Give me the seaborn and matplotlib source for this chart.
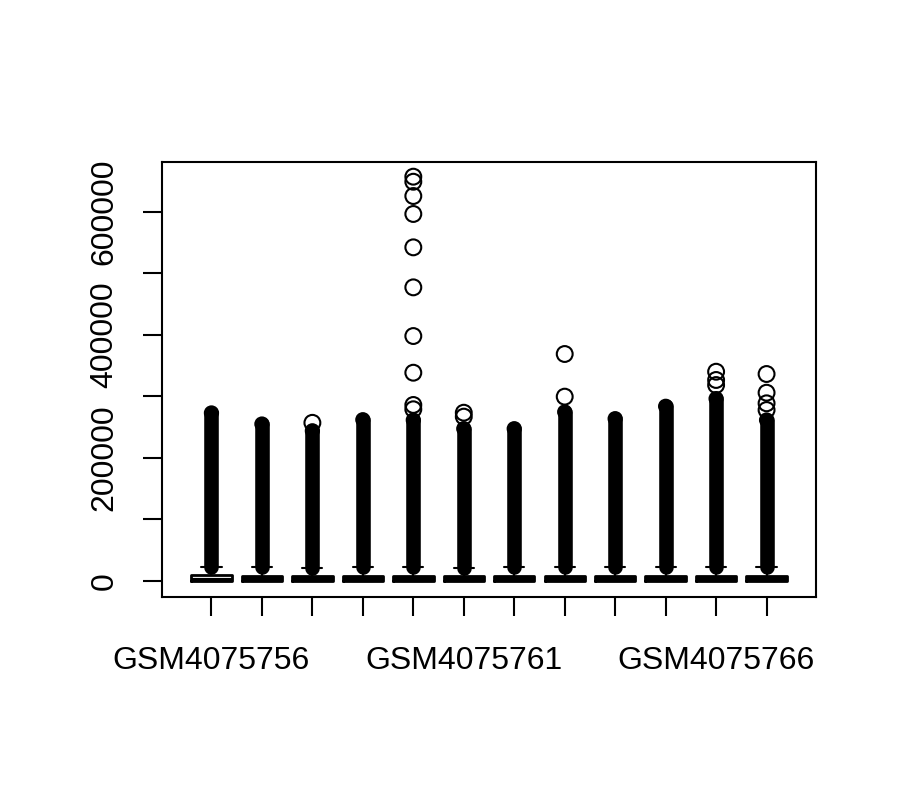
import seaborn as sns
import matplotlib.pyplot as plt
import pandas as pd

sns.set_theme(style="white")
plt.rcParams['font.family'] = ['Liberation Sans', 'DejaVu Sans']

samples = ["GSM4075756", "GSM4075757", "GSM4075758", "GSM4075759",
           "GSM4075760", "GSM4075761", "GSM4075762", "GSM4075763",
           "GSM4075764", "GSM4075765", "GSM4075766", "GSM4075767"]

# box statistics
q1 = [0] * 12
med = [1800, 2500, 2500, 2500, 2500, 2500, 2500, 2500, 2500, 2500, 2500, 2500]
q3 = [9300, 8000, 7500, 8000, 8000, 7500, 8000, 8500, 8000, 8500, 8500, 8000]
whisker_hi = [23000, 22000, 21500, 22000, 22000, 21500, 22000, 23000, 22000, 23000, 23000, 22000]
whisker_lo = [0] * 12

# top of the dense band of outliers in each column
dense_top = [273000, 255000, 244000, 262000, 261500, 247400,
             247400, 274600, 263700, 283800, 296300, 261500]

# isolated outliers above the dense band
outliers = {
    3: [257000],
    5: [656900, 648700, 625500, 596300, 542100, 477100, 398000, 338400, 286000, 279000],
    6: [273400, 267000],
    8: [368800, 299500],
    11: [340000, 326600, 318400],
    12: [336300, 305900, 288700, 277800],
}

rows = [(k, v) for k, vals in outliers.items() for v in vals]
df_out = pd.DataFrame(rows, columns=["pos", "value"])

fig = plt.figure(figsize=(9, 8), dpi=100)
ax = fig.add_axes([0.18, 0.25375, 0.7267, 0.54375])

positions = list(range(1, 13))

# dense outlier band (thousands of overlapping circles)
ax.vlines(positions, whisker_hi, dense_top, color="black", linewidth=10.5,
          capstyle="round", zorder=2)
ax.scatter(positions, dense_top, s=90, facecolors="none", edgecolors="black",
           linewidths=1.5, zorder=3)

stats = []
for i in range(12):
    stats.append(dict(med=med[i], q1=q1[i], q3=q3[i], whislo=whisker_lo[i],
                      whishi=whisker_hi[i], fliers=[]))
ax.bxp(stats, positions=positions, widths=0.8, showfliers=False,
       boxprops=dict(color="black", linewidth=2, solid_joinstyle="round"),
       medianprops=dict(color="black", linewidth=3),
       whiskerprops=dict(color="black", linewidth=1.5),
       capprops=dict(color="black", linewidth=1.5),
       zorder=4)

sns.scatterplot(data=df_out, x="pos", y="value", ax=ax, s=130,
                facecolor="none", edgecolor="black", linewidth=1.5,
                marker="o", zorder=5, legend=False)

ax.set_xlim(0.02, 12.98)
ax.set_ylim(-26000, 680760)

ax.set_xticks(positions)
ax.set_xticklabels([s if i % 5 == 0 else "" for i, s in enumerate(samples)])
yt = [0, 100000, 200000, 300000, 400000, 500000, 600000]
ax.set_yticks(yt)
ax.set_yticklabels([str(v) if v % 200000 == 0 else "" for v in yt],
                   rotation=90, va="center")

ax.tick_params(axis="both", direction="out", length=14, width=1.5,
               labelsize=23, colors="black", bottom=True, left=True)
ax.tick_params(axis="x", pad=21)
ax.tick_params(axis="y", pad=16.5)
ax.set_xlabel("")
ax.set_ylabel("")
for sp in ax.spines.values():
    sp.set_color("black")
    sp.set_linewidth(1.5)
ax.grid(False)

fig.savefig("out.png", dpi=100)
